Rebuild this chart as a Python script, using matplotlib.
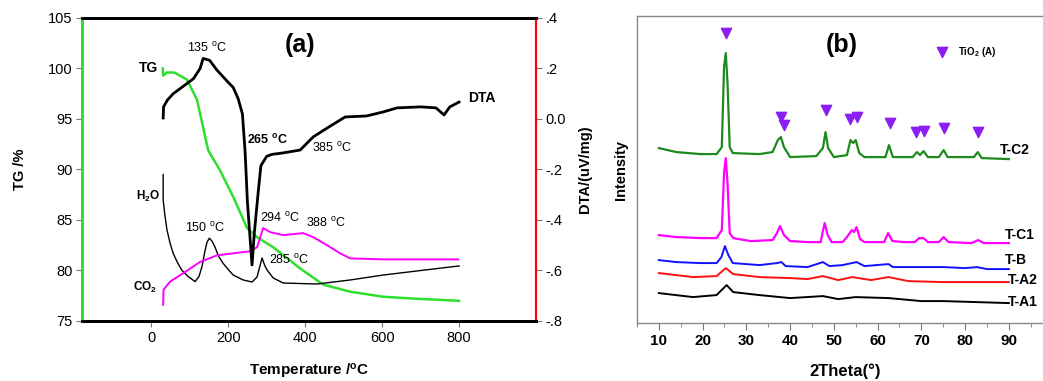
import matplotlib
matplotlib.use("Agg")
import matplotlib.pyplot as plt
from matplotlib.ticker import MultipleLocator, FixedLocator

plt.rcParams['font.family'] = ['Liberation Sans', 'DejaVu Sans']
plt.rcParams['mathtext.fontset'] = 'custom'
plt.rcParams['mathtext.rm'] = 'Liberation Sans'
plt.rcParams['mathtext.bf'] = 'Liberation Sans:bold'
plt.rcParams['mathtext.it'] = 'Liberation Sans:italic'

# ---- (a) thermal analysis data ----
tg_T = [30, 31, 40, 60, 93, 119, 148, 179, 213, 249, 275, 317, 387, 447, 517, 603, 690, 800]
tg_val = [100.0, 99.3, 99.6, 99.6, 98.9, 96.9, 91.9, 89.9, 87.3, 84.2, 83.3, 82.3, 80.2,
          78.6, 77.9, 77.4, 77.2, 77.0]

dta_T = [31, 32, 42, 57, 88, 110, 127, 135, 152, 170, 197, 213, 226, 237, 244, 250, 262,
         268, 278, 285, 300, 314, 340, 387, 421, 457, 504, 560, 603, 639, 700, 740, 761,
         776, 800]
dta_val = [0.004, 0.048, 0.075, 0.100, 0.135, 0.160, 0.200, 0.240, 0.232, 0.195, 0.150,
           0.125, 0.080, 0.020, -0.130, -0.330, -0.578, -0.450, -0.290, -0.185, -0.148,
           -0.140, -0.135, -0.123, -0.071, -0.036, 0.008, 0.012, 0.028, 0.044, 0.048,
           0.044, 0.016, 0.048, 0.067]

h2o_T = [31, 31, 35, 41, 49, 57, 68, 80, 96, 114, 124, 132, 140, 145, 151, 158, 166, 175,
         187, 200, 213, 239, 262, 275, 288, 295, 301, 317, 343, 431, 517, 603, 690, 800]
h2o_val = [89.5, 87.0, 85.6, 84.0, 82.7, 81.7, 80.8, 80.0, 79.4, 78.9, 79.4, 80.4, 82.0,
           82.8, 83.2, 82.9, 82.3, 81.4, 80.7, 80.1, 79.55, 79.06, 78.86, 79.36, 81.24,
           80.5, 80.05, 79.26, 78.76, 78.66, 79.06, 79.55, 79.95, 80.45]

co2_T = [31, 32, 49, 84, 127, 171, 213, 257, 275, 291, 309, 343, 395, 421, 457, 491, 517,
         603, 798]
co2_val = [76.6, 78.1, 78.9, 79.75, 80.85, 81.5, 81.7, 81.9, 82.3, 84.2, 83.8, 83.5, 83.7,
           83.3, 82.5, 81.7, 81.2, 81.1, 81.1]

# ---- (b) XRD patterns (2theta, intensity a.u.) ----
c2_x = [10, 14, 19.5, 23.2, 24.4, 24.9, 25.3, 25.7, 26.2, 26.9, 33, 36, 37.2, 37.9, 38.6,
        40, 46, 47.5, 48.1, 48.7, 50, 53, 53.8, 54.4, 55.0, 55.8, 57, 61.8, 62.6, 63.5, 68,
        69.0, 69.7, 70.5, 71.5, 74, 75.1, 76, 82, 82.9, 83.8, 90]
c2_y = [175, 171, 169, 169, 176, 256, 270, 240, 176, 170, 169, 171, 183, 186, 176, 166,
        167, 175, 191, 175, 166, 168, 183, 180, 183, 170, 166, 166, 178, 166, 166, 171,
        168, 172, 166, 166, 173, 166, 166, 171, 165, 164]

c1_x = [10, 14, 19.5, 23.2, 24.4, 24.9, 25.3, 25.7, 26.2, 27, 31, 36, 37, 37.7, 38.6, 40,
        44, 47, 47.4, 47.9, 48.6, 49.5, 52, 53, 54.1, 54.6, 55.2, 56, 57, 61.5, 62.4, 63.4,
        66, 68.5, 69.5, 70.5, 71.5, 74, 75.1, 76.2, 81.5, 83, 84.3, 90]
c1_y = [88, 86, 85, 85, 93, 150, 165, 140, 90, 85, 82, 83, 90, 97, 88, 82, 81, 81, 90,
        100, 88, 81, 81, 86, 93, 91, 96, 84, 81, 81, 90, 82, 81, 81, 85, 85, 81, 81, 86,
        81, 80, 83, 80, 80]

b_x = [10, 14, 19.5, 23.2, 24.3, 25.1, 25.9, 26.9, 33, 37, 38, 39, 44, 47.5, 49, 52, 55.2,
       57, 62.5, 63.5, 70, 75, 80, 82.7, 85, 90]
b_y = [63, 61, 60, 60, 66, 77, 68, 60, 58, 60, 61, 57, 56, 61, 57, 58, 61, 57, 59, 56, 56,
       56, 55, 56, 54, 54]

a2_x = [10, 17.8, 23.2, 25.3, 27, 33, 40, 44, 47.5, 51, 54.2, 58.5, 62.5, 67, 75, 90]
a2_y = [50, 46, 47, 55, 49, 46, 45, 44, 47, 43, 46, 43, 46, 42, 41, 41]

a1_x = [10, 17.8, 23.2, 25.5, 27, 33, 40, 47.5, 51, 55, 62.5, 70, 75, 90]
a1_y = [30, 26, 28, 38, 31, 28, 25, 27, 24, 26, 25, 22, 22, 20]

anatase_x = [25.3, 37.9, 38.6, 48.2, 53.7, 55.2, 62.8, 68.7, 70.6, 75.1, 82.9]
anatase_y = [290, 206, 198, 213, 204, 206, 200, 191, 192, 195, 191]

fig = plt.figure(figsize=(10.43, 3.81), dpi=100)

# ================= panel (a) =================
ax = fig.add_axes([0.0786, 0.1575, 0.4353, 0.7953])
ax2 = ax.twinx()

ax.plot(tg_T, tg_val, color='#2ee02e', lw=1.8, zorder=3)
ax.plot(h2o_T, h2o_val, color='black', lw=1.0, zorder=3)
ax.plot(co2_T, co2_val, color='#ff00ff', lw=1.4, zorder=3)
ax2.plot(dta_T, dta_val, color='black', lw=2.0)

ax.set_xlim(-180, 1000)
ax.set_ylim(75, 105)
ax2.set_ylim(-0.8, 0.4)
ax.xaxis.set_major_locator(FixedLocator([0, 200, 400, 600, 800]))
ax.yaxis.set_major_locator(MultipleLocator(5))
dta_ticks = [-0.8, -0.6, -0.4, -0.2, 0.0, 0.2, 0.4]
dta_labels = ['-.8', '-.6', '-.4', '-.2', '0.0', '.2', '.4']
ax2.set_yticks(dta_ticks)
ax2.set_yticklabels(dta_labels)

for a in (ax, ax2):
    a.spines['left'].set_color('#2ee02e')
    a.spines['left'].set_linewidth(2.0)
    a.spines['right'].set_color('red')
    a.spines['right'].set_linewidth(1.5)
    a.spines['top'].set_linewidth(2.0)
    a.spines['bottom'].set_linewidth(2.0)
ax.tick_params(axis='both', labelsize=10.5, length=4, width=0.8, color='#777777',
               direction='out', pad=3)
ax2.tick_params(axis='y', labelsize=10.5, length=4, width=0.8, color='#777777',
                direction='out', pad=3)

ax.set_ylabel('TG /%', fontsize=10.5, fontweight='bold')
ax.yaxis.set_label_coords(-0.121, 0.5)
ax2.set_ylabel('DTA/(uV/mg)', fontsize=10.5, fontweight='bold')
ax2.yaxis.set_label_coords(1.092, 0.5)
ax.set_xlabel(r'Temperature /$^{\mathbf{o}}$C', fontsize=11, fontweight='bold')
ax.xaxis.set_label_coords(0.5, -0.135)

ax.text(387, 102.3, '(a)', fontsize=18, fontweight='bold', ha='center', va='center')
ax.text(146, 102.0, r'135 $^{\rm o}$C', fontsize=9, ha='center', va='center')
ax.text(18, 100.0, 'TG', fontsize=10, fontweight='bold', ha='right', va='center')
ax.text(249, 92.9, r'265 $^{\mathbf{o}}$C', fontsize=9, fontweight='bold', ha='left', va='center')
ax.text(418, 92.1, r'385 $^{\rm o}$C', fontsize=9, ha='left', va='center')
ax.text(823, 97.1, 'DTA', fontsize=10, fontweight='bold', ha='left', va='center')
ax.text(23, 87.3, r'H$_\mathbf{2}$O', fontsize=8.5, fontweight='bold', ha='right', va='center')
ax.text(141, 84.2, r'150 $^{\rm o}$C', fontsize=9, ha='center', va='center')
ax.text(283, 85.2, r'294 $^{\rm o}$C', fontsize=9, ha='left', va='center')
ax.text(403, 84.7, r'388 $^{\rm o}$C', fontsize=9, ha='left', va='center')
ax.text(307, 81.0, r'285 $^{\rm o}$C', fontsize=9, ha='left', va='center')
ax.text(16, 78.3, r'CO$_\mathbf{2}$', fontsize=8.5, fontweight='bold', ha='right', va='center')

# ================= panel (b) =================
bx = fig.add_axes([0.6107, 0.152, 0.3985, 0.8058])
bx.plot(a1_x, a1_y, color='black', lw=1.4)
bx.plot(a2_x, a2_y, color='#ff1010', lw=1.4)
bx.plot(b_x, b_y, color='#1010ff', lw=1.4)
bx.plot(c1_x, c1_y, color='#ff00ff', lw=1.6)
bx.plot(c2_x, c2_y, color='#1e8a1e', lw=1.6)
bx.scatter(anatase_x, anatase_y, marker='v', s=55, color='#8b1ef0', zorder=4)
bx.scatter([74.7], [271], marker='v', s=55, color='#8b1ef0', zorder=4)
bx.text(78.3, 271, r'TiO$_\mathbf{2}$ (A)', fontsize=7, fontweight='bold', ha='left', va='center')

bx.set_xlim(5, 100)
bx.set_ylim(0, 307)
bx.xaxis.set_major_locator(FixedLocator([10, 20, 30, 40, 50, 60, 70, 80, 90]))
bx.xaxis.set_minor_locator(MultipleLocator(5))
bx.set_yticks([])
for s in bx.spines.values():
    s.set_color('#888888')
    s.set_linewidth(1.0)
bx.tick_params(axis='x', which='major', length=5, color='#777777', labelsize=11, pad=3)
bx.tick_params(axis='x', which='minor', length=3, color='#777777')
for lab in bx.get_xticklabels():
    lab.set_fontweight('bold')

bx.set_xlabel('2Theta(°)', fontsize=12, fontweight='bold')
bx.xaxis.set_label_coords(0.5, -0.13)
bx.set_ylabel('Intensity', fontsize=10.5, fontweight='bold')
bx.yaxis.set_label_coords(-0.022, 0.5)

bx.text(51.8, 278, '(b)', fontsize=18, fontweight='bold', ha='center', va='center')
bx.text(87.9, 173, 'T-C2', fontsize=10, fontweight='bold', ha='left', va='center')
bx.text(89.1, 88, 'T-C1', fontsize=10, fontweight='bold', ha='left', va='center')
bx.text(89.1, 63, 'T-B', fontsize=10, fontweight='bold', ha='left', va='center')
bx.text(89.8, 43, 'T-A2', fontsize=10, fontweight='bold', ha='left', va='center')
bx.text(89.8, 21, 'T-A1', fontsize=10, fontweight='bold', ha='left', va='center')

fig.savefig('out.png', dpi=100)
